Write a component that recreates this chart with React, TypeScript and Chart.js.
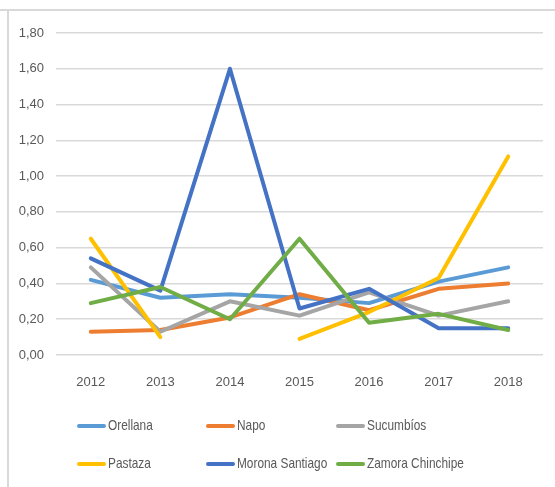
import React, { useEffect, useRef } from "react";
import { Chart, registerables } from "chart.js";

Chart.register(...registerables);

const years = ["2012", "2013", "2014", "2015", "2016", "2017", "2018"];
const orellana = [0.42, 0.32, 0.34, 0.32, 0.29, 0.41, 0.49];
const napo = [0.13, 0.14, 0.21, 0.34, 0.25, 0.37, 0.4];
const sucumbios = [0.49, 0.13, 0.3, 0.22, 0.35, 0.22, 0.3];
const pastaza = [0.65, 0.1, null, 0.09, 0.24, 0.43, 1.11];
const morona = [0.54, 0.36, 1.6, 0.26, 0.37, 0.15, 0.15];
const zamora = [0.29, 0.38, 0.2, 0.65, 0.18, 0.23, 0.14];

const seriesNames = ["Orellana", "Napo", "Sucumbíos", "Pastaza", "Morona Santiago", "Zamora Chinchipe"];
const seriesValues = [orellana, napo, sucumbios, pastaza, morona, zamora];
const seriesColors = ["#5B9BD5", "#ED7D31", "#A5A5A5", "#FFC000", "#4472C4", "#70AD47"];

const yMin = 0;
const yMax = 1.8;
const yStep = 0.2;

const FONT = "'Liberation Sans', Arial, sans-serif";
const TEXT_COLOR = "#595959";
const GRID_COLOR = "#d9d9d9";

const framePlugin = {
  id: "frame",
  beforeDraw(chart: any) {
    const ctx = chart.ctx;
    ctx.save();
    ctx.strokeStyle = GRID_COLOR;
    ctx.lineWidth = 2;
    ctx.beginPath();
    ctx.moveTo(0, 10);
    ctx.lineTo(chart.width, 10);
    ctx.moveTo(8, 10);
    ctx.lineTo(8, chart.height);
    ctx.stroke();
    ctx.restore();
  },
};

const legendPlugin = {
  id: "customLegend",
  afterDraw(chart: any) {
    const ctx = chart.ctx;
    const cols = [77, 206, 336];
    const rows = [426, 464];
    seriesNames.forEach((name, i) => {
      const x = cols[i % 3];
      const y = rows[Math.floor(i / 3)];
      ctx.save();
      ctx.strokeStyle = seriesColors[i];
      ctx.lineWidth = 4;
      ctx.lineCap = "round";
      ctx.beginPath();
      ctx.moveTo(x + 2, y);
      ctx.lineTo(x + 27, y);
      ctx.stroke();
      ctx.fillStyle = TEXT_COLOR;
      ctx.font = `15px ${FONT}`;
      ctx.textBaseline = "middle";
      ctx.textAlign = "left";
      ctx.translate(x + 31, y);
      ctx.scale(0.79, 1);
      ctx.fillText(name, 0, 0);
      ctx.restore();
    });
  },
};

export default function App() {
  const canvasRef = useRef<HTMLCanvasElement | null>(null);

  useEffect(() => {
    if (!canvasRef.current) return;
    const n = seriesNames.length;
    const chart = new Chart(canvasRef.current, {
      type: "line",
      data: {
        labels: years,
        datasets: seriesNames.map((name, i) => ({
          label: name,
          data: seriesValues[i],
          borderColor: seriesColors[i],
          backgroundColor: seriesColors[i],
          borderWidth: 4,
          borderCapStyle: "round",
          borderJoinStyle: "round",
          pointRadius: 0,
          pointHoverRadius: 0,
          tension: 0,
          spanGaps: false,
          fill: false,
          order: n - 1 - i,
        })),
      },
      options: {
        animation: false,
        responsive: false,
        maintainAspectRatio: false,
        layout: { padding: { top: 33, right: 12, bottom: 92, left: 0 } },
        plugins: {
          legend: { display: false },
          tooltip: { enabled: false },
        },
        scales: {
          x: {
            type: "category",
            offset: true,
            grid: { display: false, drawTicks: false },
            border: { display: false },
            ticks: {
              color: TEXT_COLOR,
              font: { family: FONT, size: 13 },
              padding: 20,
              maxRotation: 0,
            },
            afterFit(scale: any) {
              scale.height = 40;
            },
          },
          y: {
            min: yMin,
            max: yMax,
            grid: { color: GRID_COLOR, lineWidth: 1.5, drawTicks: false },
            border: { display: false },
            ticks: {
              stepSize: yStep,
              color: TEXT_COLOR,
              font: { family: FONT, size: 13 },
              padding: 12,
              callback: (v: any) => Number(v).toFixed(2).replace(".", ","),
            },
            afterFit(scale: any) {
              scale.width = 56;
            },
          },
        },
      },
      plugins: [framePlugin, legendPlugin],
    });
    return () => chart.destroy();
  }, []);

  return (
    <div style={{ position: "fixed", left: 0, top: 0, width: 555, height: 487, background: "#fff" }}>
      <canvas ref={canvasRef} width={555} height={487} style={{ display: "block" }} />
    </div>
  );
}
